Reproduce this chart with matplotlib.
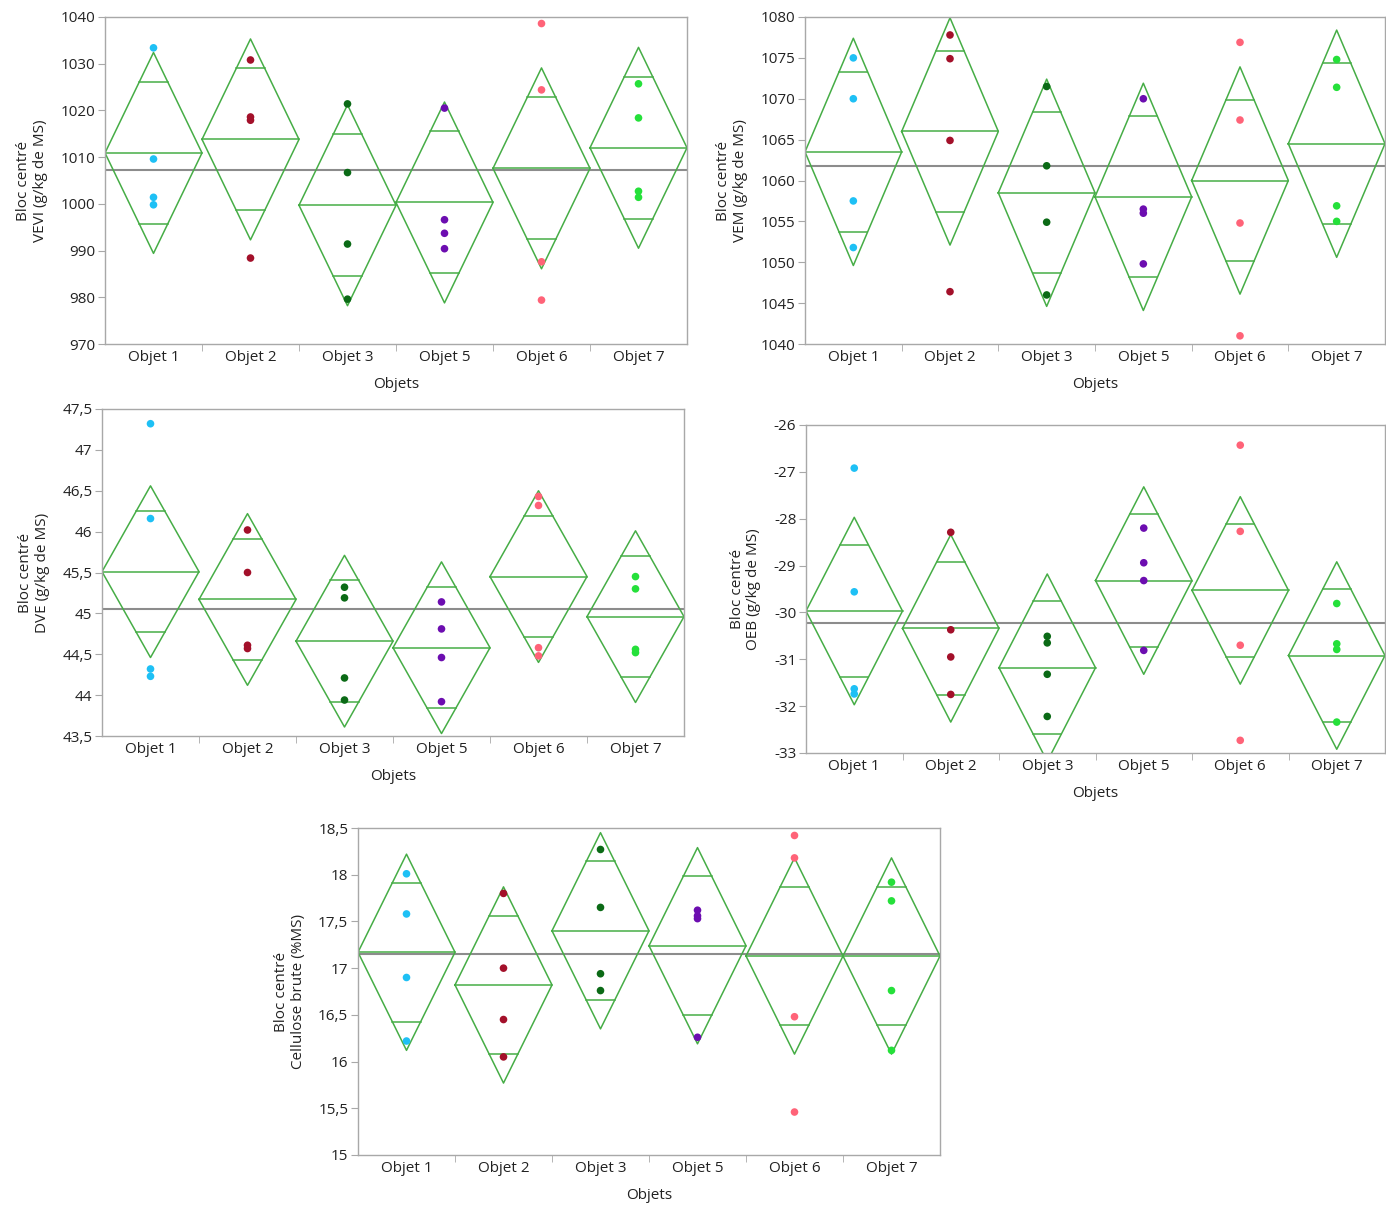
import numpy as np
import matplotlib
matplotlib.use('Agg')
import matplotlib.pyplot as plt
from matplotlib.ticker import FixedLocator, FuncFormatter

plt.rcParams['font.family'] = ['Open Sans', 'DejaVu Sans']

objets = ['Objet 1', 'Objet 2', 'Objet 3', 'Objet 5', 'Objet 6', 'Objet 7']
pointColors = ['#1ec0f5', '#a3102a', '#0b6a16', '#6c0db0', '#ff6378', '#25e03a']

# VEVI
veviMeans = [1010.9, 1013.8, 999.7, 1000.3, 1007.6, 1012.0]
veviCi = 21.5
veviGrand = 1007.3
veviPoints = [[1033.4, 1009.6, 1001.4, 999.8], [1030.8, 1018.6, 1017.9, 988.4],
              [1021.4, 1006.7, 991.4, 979.6], [1020.5, 996.6, 993.7, 990.4],
              [1038.6, 1024.4, 987.6, 979.4], [1025.7, 1018.4, 1002.7, 1001.4]]
veviTicks = [970, 980, 990, 1000, 1010, 1020, 1030, 1040]

# VEM
vemMeans = [1063.5, 1066.0, 1058.5, 1058.0, 1060.0, 1064.5]
vemCi = 13.9
vemGrand = 1061.8
vemPoints = [[1075.0, 1070.0, 1057.5, 1051.8], [1077.8, 1074.9, 1064.9, 1046.4],
             [1071.5, 1061.8, 1054.9, 1046.0], [1070.0, 1056.5, 1056.0, 1049.8],
             [1076.9, 1067.4, 1054.8, 1041.0], [1074.8, 1071.4, 1056.9, 1055.0]]
vemTicks = [1040, 1045, 1050, 1055, 1060, 1065, 1070, 1075, 1080]

# DVE
dveMeans = [45.51, 45.17, 44.66, 44.58, 45.45, 44.96]
dveCi = 1.05
dveGrand = 45.05
dvePoints = [[47.32, 46.16, 44.32, 44.23], [46.02, 45.50, 44.61, 44.57],
             [45.32, 45.19, 44.21, 43.94], [45.14, 44.81, 44.46, 43.92],
             [46.43, 46.32, 44.58, 44.48], [45.45, 45.30, 44.56, 44.52]]
dveTicks = [43.5, 44, 44.5, 45, 45.5, 46, 46.5, 47, 47.5]

# OEB
oebMeans = [-29.97, -30.34, -31.18, -29.32, -29.53, -30.92]
oebCi = 2.0
oebGrand = -30.22
oebPoints = [[-26.92, -29.56, -31.63, -31.74], [-28.29, -30.37, -30.95, -31.75],
             [-30.51, -30.65, -31.32, -32.22], [-28.20, -28.94, -29.32, -30.81],
             [-26.43, -28.27, -30.70, -32.73], [-29.81, -30.67, -30.79, -32.34]]
oebTicks = [-33, -32, -31, -30, -29, -28, -27, -26]

# Cellulose brute
cbMeans = [17.17, 16.82, 17.40, 17.24, 17.13, 17.13]
cbCi = 1.05
cbGrand = 17.15
cbPoints = [[18.01, 17.58, 16.90, 16.22], [17.80, 17.00, 16.45, 16.05],
            [18.27, 17.65, 16.94, 16.76], [17.62, 17.56, 17.53, 16.26],
            [18.42, 18.18, 16.48, 15.46], [17.92, 17.72, 16.76, 16.12]]
cbTicks = [15, 15.5, 16, 16.5, 17, 17.5, 18, 18.5]

DIAMOND = '#46ad46'
GRAND = '#8c8c8c'
SPINE = '#a8a8a8'


def DrawDiamonds(ax, means, ci, points, grand, ticks, ylabel):
    ''' Draw a JMP style means diamonds panel. '''
    n = len(objets)
    ax.set_xlim(0, n)
    ax.set_ylim(ticks[0], ticks[-1])
    ax.axhline(grand, color=GRAND, lw=1.5, zorder=1)
    ov = ci / np.sqrt(2)
    w = 0.5 * (1 - ov / ci)
    for i, m in enumerate(means):
        ax.plot([i, i + 0.5, i + 1, i + 0.5, i], [m, m + ci, m, m - ci, m],
                color=DIAMOND, lw=1.1, zorder=2)
        ax.plot([i, i + 1], [m, m], color=DIAMOND, lw=1.1, zorder=2)
        ax.plot([i + 0.5 - w, i + 0.5 + w], [m + ov, m + ov], color=DIAMOND, lw=1.1, zorder=2)
        ax.plot([i + 0.5 - w, i + 0.5 + w], [m - ov, m - ov], color=DIAMOND, lw=1.1, zorder=2)
        ax.scatter([i + 0.5] * len(points[i]), points[i], s=30, color=pointColors[i],
                   edgecolors='none', zorder=3)

    ax.xaxis.set_major_locator(FixedLocator(np.arange(n) + 0.5))
    ax.set_xticklabels(objets)
    ax.xaxis.set_minor_locator(FixedLocator(np.arange(1, n)))
    ax.tick_params(axis='x', which='major', length=0, labelsize=11, pad=4, labelcolor='#222222')
    ax.tick_params(axis='x', which='minor', length=5, color=SPINE, direction='out')
    ax.yaxis.set_major_locator(FixedLocator(ticks))
    ax.yaxis.set_major_formatter(FuncFormatter(lambda v, p: f'{v:g}'.replace('.', ',')))
    ax.tick_params(axis='y', length=5, color=SPINE, labelsize=11, pad=2, labelcolor='#222222')
    for s in ax.spines.values():
        s.set_color(SPINE)
        s.set_linewidth(1.0)
    ax.set_xlabel('Objets', fontsize=11, color='#222222', labelpad=9)
    ax.set_ylabel('Bloc centré\n' + ylabel, fontsize=11, color='#222222', labelpad=9,
                  linespacing=1.15)


W, H = 1386, 1206
fig = plt.figure(figsize=(W / 100, H / 100), dpi=100)


def AxesAt(left, top, right, bottom):
    return fig.add_axes([left / W, 1 - bottom / H, (right - left) / W, (bottom - top) / H])


DrawDiamonds(AxesAt(105, 17, 687, 344), veviMeans, veviCi, veviPoints, veviGrand, veviTicks,
             'VEVI (g/kg de MS)')
DrawDiamonds(AxesAt(805, 17, 1385, 344), vemMeans, vemCi, vemPoints, vemGrand, vemTicks,
             'VEM (g/kg de MS)')
DrawDiamonds(AxesAt(102, 409, 684, 736), dveMeans, dveCi, dvePoints, dveGrand, dveTicks,
             'DVE (g/kg de MS)')
DrawDiamonds(AxesAt(806, 425, 1385, 753), oebMeans, oebCi, oebPoints, oebGrand, oebTicks,
             'OEB (g/kg de MS)')
DrawDiamonds(AxesAt(358, 828, 940, 1155), cbMeans, cbCi, cbPoints, cbGrand, cbTicks,
             'Cellulose brute (%MS)')

fig.savefig('out.png', dpi=100)
